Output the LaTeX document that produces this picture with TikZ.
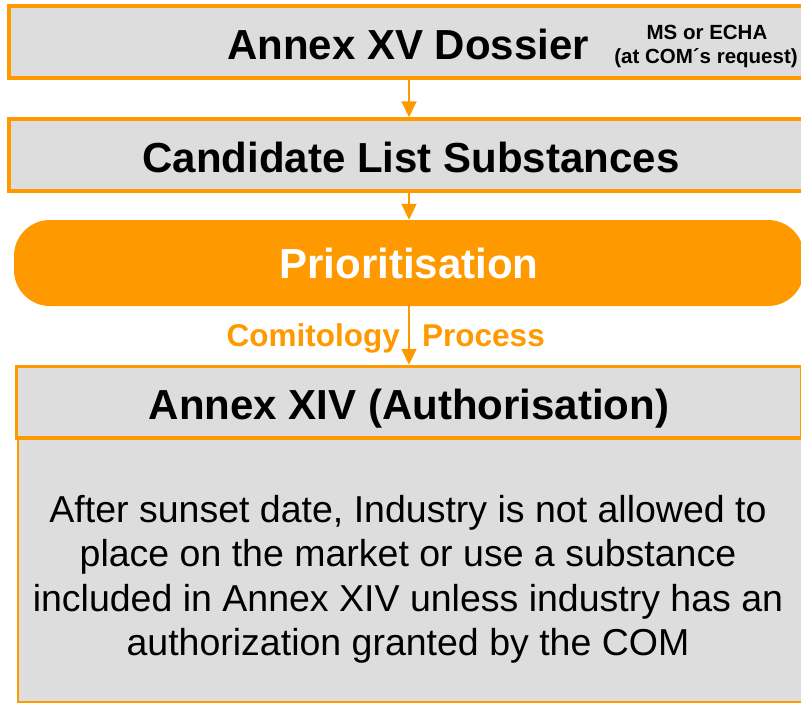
\documentclass[tikz,border=0pt]{standalone}
\usepackage{fontspec}
\setmainfont{Liberation Sans}
\usetikzlibrary{arrows.meta}
\definecolor{reachorange}{HTML}{FF9900}
\definecolor{boxgray}{HTML}{DDDDDD}
\tikzset{
  stagebox/.style={draw=reachorange, line width=3.5pt, fill=boxgray,
    minimum width=800pt, minimum height=72pt, inner sep=0pt},
  bodybox/.style={draw=reachorange, line width=2.5pt, fill=boxgray,
    minimum width=784pt, minimum height=263pt, inner sep=0pt},
  pillbox/.style={fill=reachorange, rounded corners=36pt,
    minimum width=790pt, minimum height=86pt, inner sep=0pt},
  titletext/.style={font=\fontsize{42}{50}\selectfont\bfseries, anchor=base, inner sep=0pt},
  notetext/.style={font=\fontsize{20.5}{24}\selectfont\bfseries, align=center, inner sep=0pt},
  flowlabel/.style={font=\fontsize{31.5}{36}\selectfont\bfseries, text=reachorange, inner sep=0pt},
  bodytext/.style={font=\fontsize{37.5}{45}\selectfont, anchor=base, inner sep=0pt},
  flow/.style={draw=reachorange, line width=2pt, -{Triangle[length=16pt, width=15pt]}}
}
\begin{document}
\begin{tikzpicture}[x=1pt, y=-1pt]
\useasboundingbox (0,0) rectangle (801,704);

% stage boxes
\node[stagebox] (dossier) at (409,42) {};
\node[stagebox] (candidates) at (409,155) {};
\node[pillbox] (prio) at (409,263) {};
\node[bodybox] (rules) at (409.75,570.5) {};
\node[stagebox, minimum width=785pt, minimum height=71.5pt] (annex) at (409,402.25) {};

% titles
\node[titletext] (dossiertxt) at (408,59) {Annex XV Dossier};
\node[notetext, anchor=base] (who) at (707,39) {MS or ECHA};
\node[notetext, anchor=base] (who2) at (706,63) {(at COM\char"00B4 s request)};
\node[titletext] (candtxt) at (411,172) {Candidate List Substances};
\node[titletext, text=white] (priotxt) at (409,278) {Prioritisation};
\node[titletext] (annextxt) at (409,419) {Annex XIV (Authorisation)};

% body text
\node[bodytext] (l1) at (408,522) {After sunset date, Industry is not allowed to};
\node[bodytext] (l2) at (408,566.5) {place on the market or use a substance};
\node[bodytext] (l3) at (408,611) {included in Annex XIV unless industry has an};
\node[bodytext] (l4) at (408,655.5) {authorization granted by the COM};

% connectors
\draw[flow] (dossier) -- (candidates);
\draw[flow] (candidates) -- (prio);
\draw[flow] (prio) -- (annex);

% label of the last step
\node[flowlabel, anchor=base east] (comit) at (400,346) {Comitology};
\node[flowlabel, anchor=base west] (proc) at (422,346) {Process};
\end{tikzpicture}
\end{document}
